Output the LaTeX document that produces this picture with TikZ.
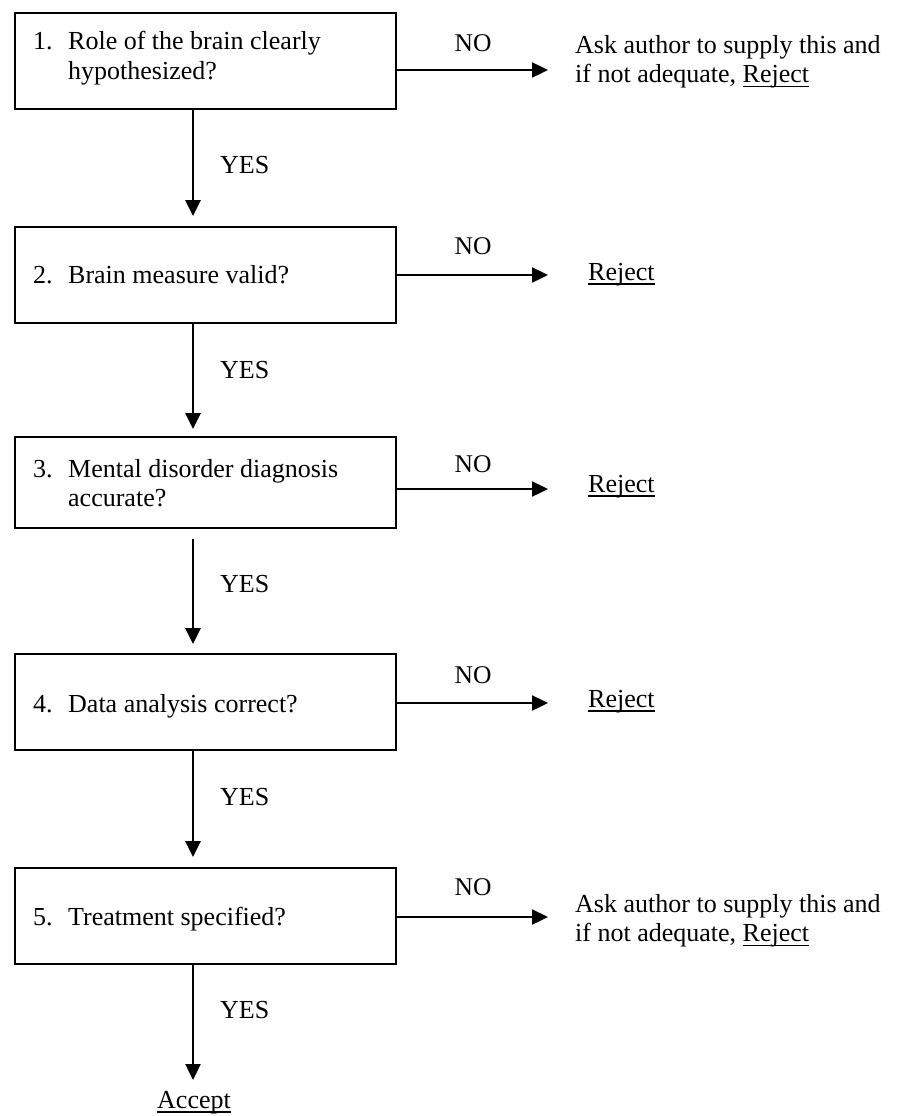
\documentclass[tikz,border=0pt]{standalone}
\usepackage{fontspec}
\setmainfont{Liberation Serif}
\usetikzlibrary{arrows.meta}
\newcommand\myul[1]{\leavevmode\setbox0\hbox{#1}\rlap{\rule[-4.5pt]{\wd0}{1.3pt}}\box0}
\begin{document}
\begin{tikzpicture}[x=1pt,y=-1pt,
  box/.style={draw,line width=1.8pt,minimum width=381pt,inner sep=0pt},
  arr/.style={line width=2.4pt,-{Triangle[length=16pt,width=15pt]}},
  txt/.style={anchor=base west,inner sep=0pt,font=\fontsize{26}{29.5}\selectfont},
  lab/.style={anchor=base,inner sep=0pt,font=\fontsize{25.5}{29.5}\selectfont}]
\useasboundingbox (0,0) rectangle (910,1116);
\coordinate (ax) at (193,0);
% boxes
\node[box,minimum height=96pt] (b1) at (205.5,61) {};
\node[box,minimum height=96pt] (b2) at (205.5,275) {};
\node[box,minimum height=91pt] (b3) at (205.5,482.5) {};
\node[box,minimum height=96pt] (b4) at (205.5,702) {};
\node[box,minimum height=96pt] (b5) at (205.5,916) {};
% box texts
\node[txt] (t1) at (33,49.5) {\begin{tabular}[t]{@{}p{35pt}@{}l@{}}1. & Role of the brain clearly\\ & hypothesized?\end{tabular}};
\node[txt] (t2) at (33,283) {\begin{tabular}[t]{@{}p{35pt}@{}l@{}}2. & Brain measure valid?\end{tabular}};
\node[txt] (t3) at (33,477) {\begin{tabular}[t]{@{}p{35pt}@{}l@{}}3. & Mental disorder diagnosis\\ & accurate?\end{tabular}};
\node[txt] (t4) at (33,712) {\begin{tabular}[t]{@{}p{35pt}@{}l@{}}4. & Data analysis correct?\end{tabular}};
\node[txt] (t5) at (33,925) {\begin{tabular}[t]{@{}p{35pt}@{}l@{}}5. & Treatment specified?\end{tabular}};
% outcomes
\node[txt] (r1) at (575,53) {\begin{tabular}[t]{@{}l@{}}Ask author to supply this and\\ if not adequate, \myul{Reject}\end{tabular}};
\node[txt] (r2) at (588,280) {\myul{Reject}};
\node[txt] (r3) at (588,492) {\myul{Reject}};
\node[txt] (r4) at (588,707) {\myul{Reject}};
\node[txt] (r5) at (575,912) {\begin{tabular}[t]{@{}l@{}}Ask author to supply this and\\ if not adequate, \myul{Reject}\end{tabular}};
\node[txt] (acc) at (157,1108) {\myul{Accept}};
% NO arrows
\coordinate (ne) at (548,0);
\draw[arr] ([yshift=-9pt]b1.east) -- ([yshift=-9pt]b1.east -| ne);
\draw[arr] (b2.east) -- (b2.east -| ne);
\draw[arr] ([yshift=-6.5pt]b3.east) -- ([yshift=-6.5pt]b3.east -| ne);
\draw[arr] ([yshift=-1pt]b4.east) -- ([yshift=-1pt]b4.east -| ne);
\draw[arr] ([yshift=-1pt]b5.east) -- ([yshift=-1pt]b5.east -| ne);
\node[lab] (n1) at (473,52) {NO};
\node[lab] (n2) at (473,254) {NO};
\node[lab] (n3) at (473,472) {NO};
\node[lab] (n4) at (473,683) {NO};
\node[lab] (n5) at (473,895) {NO};
% YES arrows
\draw[arr,shorten >=10pt] (b1.south -| ax) -- (b2.north -| ax);
\draw[arr,shorten >=7pt] (b2.south -| ax) -- (b3.north -| ax);
\draw[arr,shorten <=10pt,shorten >=9pt] (b3.south -| ax) -- (b4.north -| ax);
\draw[arr,shorten >=10pt] (b4.south -| ax) -- (b5.north -| ax);
\coordinate (accTop) at (193,1080);
\draw[arr] (b5.south -| ax) -- (accTop);
\node[txt] (y1) at (220,173) {YES};
\node[txt] (y2) at (220,378) {YES};
\node[txt] (y3) at (220,592) {YES};
\node[txt] (y4) at (220,805) {YES};
\node[txt] (y5) at (220,1018) {YES};
\end{tikzpicture}
\end{document}
